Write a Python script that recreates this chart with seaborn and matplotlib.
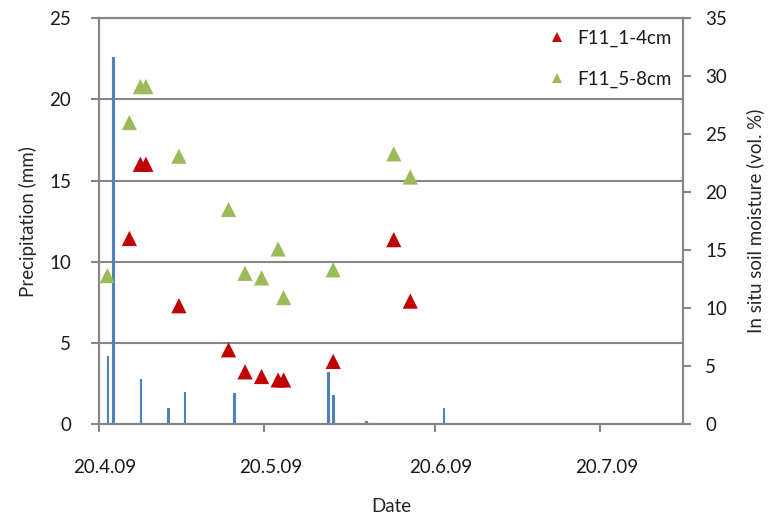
#!/usr/bin/env python3
"""Precipitation bars and in situ soil moisture (F11) on a shared date axis."""
import matplotlib
matplotlib.use('Agg')
import matplotlib.pyplot as plt
import matplotlib.transforms as mtransforms
import seaborn as sns
import pandas as pd

# precipitation (mm), daily totals
rain_dates = ["2009-04-21", "2009-04-22", "2009-04-27", "2009-05-02", "2009-05-05",
              "2009-05-14", "2009-05-15", "2009-05-31", "2009-06-01", "2009-06-05",
              "2009-06-07", "2009-06-21", "2009-07-23"]
rain_mm = [4.2, 22.6, 2.8, 1.0, 2.0, 1.9, 0.08, 3.2, 1.8, 0.08, 0.2, 1.0, 0.05]

# soil moisture sampling (vol. %)
soil_dates = ["2009-04-21", "2009-04-25", "2009-04-27", "2009-04-28", "2009-05-04",
              "2009-05-13", "2009-05-16", "2009-05-19", "2009-05-22", "2009-05-23",
              "2009-06-01", "2009-06-12", "2009-06-15"]
f11_1_4cm = [None, 16.0, 22.4, 22.4, 10.2, 6.4, 4.5, 4.1, 3.8, 3.8, 5.4, 15.9, 10.6]
f11_5_8cm = [12.8, 26.0, 29.1, 29.1, 23.1, 18.5, 13.0, 12.6, 15.1, 10.9, 13.3, 23.3, 21.3]

tick_dates = ["2009-04-20", "2009-05-20", "2009-06-20", "2009-07-20"]
tick_labels = ["20.4.09", "20.5.09", "20.6.09", "20.7.09"]

GREY = '#868686'
BLUE = '#4F81BD'
RED = '#C00000'
GREEN = '#9BBB59'

sns.set_style('white')
plt.rcParams['font.family'] = ['Lato', 'DejaVu Sans']
plt.rcParams['font.size'] = 13.5
plt.rcParams['text.color'] = '#1a1a1a'

# Excel draws each day's value in the middle of that day
mid = pd.Timedelta(hours=12)
rain = pd.DataFrame({"date": pd.to_datetime(rain_dates) + mid, "mm": rain_mm})
soil = pd.DataFrame({"date": pd.to_datetime(soil_dates) + mid,
                     "F11_1-4cm": f11_1_4cm, "F11_5-8cm": f11_5_8cm})
soil_long = soil.melt(id_vars="date", var_name="depth", value_name="moisture").dropna()

fig, ax = plt.subplots(figsize=(7.74, 5.19), dpi=100)
fig.subplots_adjust(left=0.128, right=0.8824, top=0.965, bottom=0.183)

ax.set_axisbelow(True)
ax.grid(axis='y', color=GREY, linewidth=1.5)
ax.bar(rain["date"], rain["mm"], width=0.3, color=BLUE, edgecolor=BLUE,
       linewidth=0.8, zorder=2)
ax.set_ylim(0, 25)
ax.set_yticks(range(0, 26, 5))
ax.set_xlim(pd.Timestamp("2009-04-20"), pd.Timestamp("2009-08-04"))
ax.set_xticks(pd.to_datetime(tick_dates))
ax.set_xticklabels(tick_labels)
ax.set_ylabel('Precipitation (mm)', labelpad=9)
ax.set_xlabel('Date', labelpad=16)

ax2 = ax.twinx()
sns.scatterplot(data=soil_long, x="date", y="moisture", hue="depth",
                palette={"F11_1-4cm": RED, "F11_5-8cm": GREEN},
                marker='^', s=120, linewidth=0, ax=ax2, zorder=3)
ax2.set_ylim(0, 35)
ax2.set_yticks(range(0, 36, 5))
ax2.set_ylabel('In situ soil moisture (vol. %)', labelpad=14)
ax2.set_xlabel('')

for a in (ax, ax2):
    for side in ('left', 'right', 'bottom', 'top'):
        a.spines[side].set_color(GREY)
        a.spines[side].set_linewidth(1.5)
    a.tick_params(color=GREY, width=1.5, length=6, labelsize=13.5,
                  labelcolor='#1a1a1a')
ax.tick_params(axis='y', pad=14, direction='out', left=True)
ax.tick_params(axis='x', pad=19, direction='out', bottom=True)
ax2.tick_params(axis='y', pad=10, direction='out', right=True)

# shift date labels a little to the right, as in the source chart
shift = mtransforms.ScaledTranslation(0.06, 0, fig.dpi_scale_trans)
for lbl in ax.get_xticklabels():
    lbl.set_transform(lbl.get_transform() + shift)

leg = ax2.legend(loc='upper right', frameon=False, fontsize=13.5, title=None,
                 labelspacing=1.3, handletextpad=0.1, markerscale=0.65,
                 borderaxespad=0.2)

plt.savefig('out.png', dpi=100)
plt.close()
